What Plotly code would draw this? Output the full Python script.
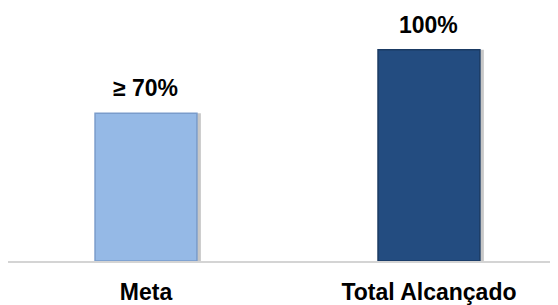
import plotly.graph_objects as go

categories = ["Meta", "Total Alcançado"]
values = [70, 100]
value_labels = ["≥ 70%", "100%"]
bar_colors = ["#95B9E6", "#234C80"]
edge_colors = ["#7A9CCB", "#1A3A63"]

FONT = "Arial, Liberation Sans, sans-serif"
BAR_W = 0.36

fig = go.Figure()
# soft drop shadow behind each bar
fig.add_trace(go.Bar(
    x=categories, y=values,
    width=BAR_W, offset=-BAR_W / 2 + 0.014,
    marker=dict(color="rgba(0,0,0,0.22)", line=dict(width=0)),
    hoverinfo="skip",
))
fig.add_trace(go.Bar(
    x=categories, y=values,
    width=BAR_W, offset=-BAR_W / 2,
    marker=dict(color=bar_colors, line=dict(color=edge_colors, width=1.5)),
    hoverinfo="skip",
))

for c, v, t in zip(categories, values, value_labels):
    fig.add_annotation(x=c, y=v, text="<b>%s</b>" % t, showarrow=False,
                       yanchor="bottom", yshift=10,
                       font=dict(family=FONT, size=23, color="#000000"))

# page body has an 8px margin; figure sized to fit the remaining window
fig.update_layout(
    width=550, height=297,
    margin=dict(l=0, r=0, t=0, b=37),
    barmode="overlay",
    paper_bgcolor="white", plot_bgcolor="white",
    showlegend=False,
    xaxis=dict(
        type="category", range=[-0.4876, 1.456],
        showline=True, linecolor="#D4D4D4", linewidth=2,
        ticks="", showgrid=False, zeroline=False,
        tickfont=dict(family=FONT, size=23, color="#000000"),
        ticklabelstandoff=9,
        tickvals=categories,
        ticktext=["<b>%s</b>" % c for c in categories],
    ),
    yaxis=dict(range=[0, 119.8], visible=False, showgrid=False, zeroline=False),
)

fig.write_html("out.html")
